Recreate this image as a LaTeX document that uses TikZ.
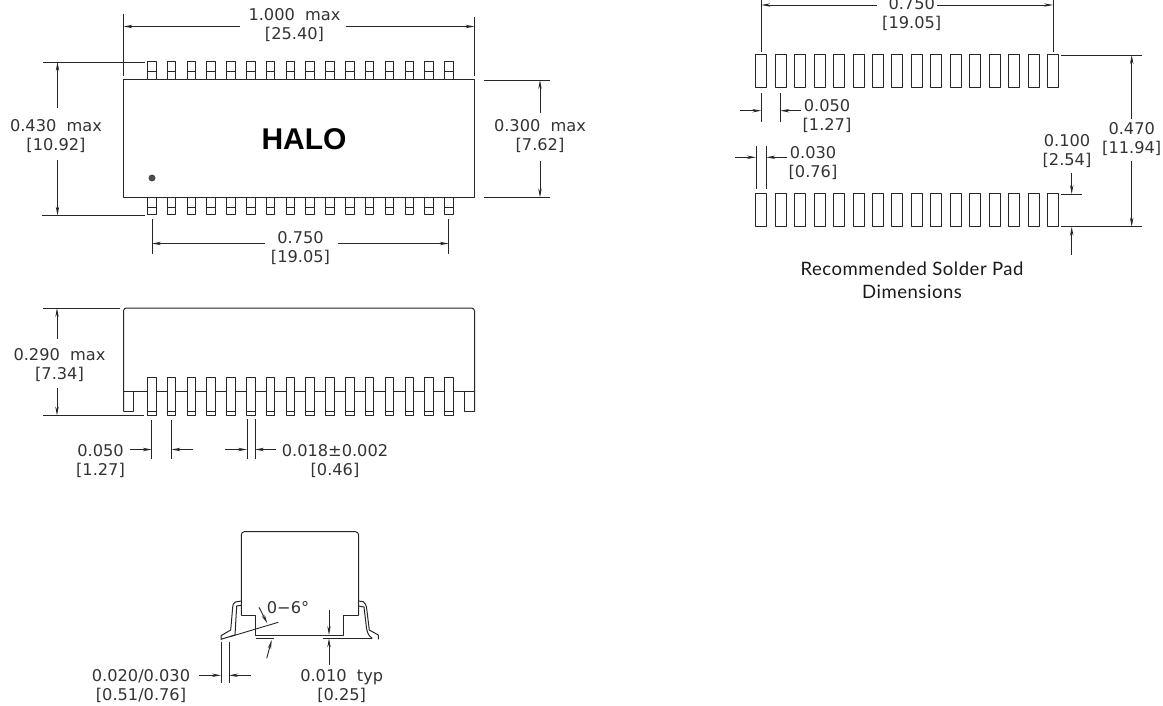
\documentclass[tikz,border=0pt]{standalone}
\usepackage{fontspec}
\newfontfamily\dimfont{DejaVu Sans}
\newfontfamily\captionfont[LetterSpace=3]{Lato}
\newfontfamily\logofont{Liberation Sans}
\usetikzlibrary{arrows.meta}

\tikzset{
  outline/.style={draw=black!85, line width=1pt, line join=round},
  thinline/.style={draw=black!85, line width=0.9pt},
  dimline/.style={draw=black!85, line width=0.9pt, -{Stealth[length=9pt,width=3.4pt]}},
  dimtext/.style={align=center, inner sep=0pt, text=black!80, font=\dimfont\fontsize{16.2}{19}\selectfont},
  captiontext/.style={align=center, inner sep=0pt, text=black!90, font=\captionfont\fontsize{18.5}{23}\selectfont},
  pinbox/.style={outline, fill=white},
}

\begin{document}
\begin{tikzpicture}[x=1pt, y=-1pt]
\useasboundingbox (0,0) rectangle (1163,706);

\node[dimtext] (tabovera) at (294.5,25) {1.000\ \ max\\{[25.40]}};
\node[dimtext] (tophigh) at (56,136) {0.430\ \ max\\{[10.92]}};
\node[dimtext] (topbody) at (540,136) {0.300\ \ max\\{[7.62]}};
\node[dimtext] (toppitch) at (300.5,248) {0.750\\{[19.05]}};
\node[font=\logofont\bfseries\fontsize{30}{30}\selectfont, inner sep=0pt] (halo) at (304,139) {HALO};
\node[circle, fill=black!70, minimum size=7pt, inner sep=0pt] (dot) at (152,178) {};

\foreach \i in {0,...,15} {
  \draw[outline] ({147.5+19.81*\i},80) -- ({147.5+19.81*\i},62) -- ({156+19.81*\i},62) -- ({156+19.81*\i},80);
  \draw[thinline] ({147.5+19.81*\i},71.5) -- ({156+19.81*\i},71.5);
  \draw[outline] ({147.5+19.81*\i},197.5) -- ({147.5+19.81*\i},215) -- ({156+19.81*\i},215) -- ({156+19.81*\i},197.5);
  \draw[thinline] ({147.5+19.81*\i},207) -- ({156+19.81*\i},207);
}
\draw[outline] (123.5,80) rectangle (474.5,197.5);

\draw[thinline] (123.5,14) -- (123.5,76);
\draw[thinline] (474.5,17) -- (474.5,76);
\draw[dimline] (240,26.5) -- (123.5,26.5);
\draw[dimline] (345.7,26.5) -- (474.5,26.5);
\draw[thinline] (43,62) -- (145,62);
\draw[thinline] (42,215.5) -- (145,215.5);
\draw[dimline] (57.5,108) -- (57.5,62);
\draw[dimline] (57.5,160) -- (57.5,215.5);
\draw[thinline] (483.5,80) -- (549.5,80);
\draw[thinline] (483.5,197.5) -- (549.5,197.5);
\draw[dimline] (540,113) -- (540,80);
\draw[dimline] (540,161) -- (540,197.5);
\draw[thinline] (152,219) -- (152,254);
\draw[thinline] (448.7,219) -- (448.7,254);
\draw[dimline] (265,243.5) -- (152,243.5);
\draw[dimline] (338,243.5) -- (448.7,243.5);

\node[dimtext] (sidehigh) at (59.5,365) {0.290\ \ max\\{[7.34]}};
\node[dimtext] (sidepitch) at (100.5,461) {0.050\\{[1.27]}};
\node[dimtext] (sidelead) at (335,461) {0.018±0.002\\{[0.46]}};

\draw[outline, rounded corners=3pt] (123.5,411.5) -- (123.5,308) -- (474.5,308) -- (474.5,411.5);
\draw[outline] (474.5,400) -- (474.5,411.5) -- (464.3,411.5) -- (464.3,391.5) -- (474.5,391.5);
\draw[outline] (123.5,391.5) -- (464.3,391.5);
\draw[outline] (123.5,411.5) -- (133.5,411.5) -- (133.5,391.5);
\foreach \i in {0,...,15} {
  \draw[pinbox] ({147.5+19.81*\i},377.3) rectangle ({156+19.81*\i},415.3);
  \draw[thinline] ({147.5+19.81*\i},411.7) -- ({156+19.81*\i},411.7);
}

\draw[thinline] (43,308) -- (120,308);
\draw[thinline] (43,415.5) -- (144,415.5);
\draw[dimline] (57,339) -- (57,308);
\draw[dimline] (57,388) -- (57,415.5);
\draw[thinline] (151.7,420) -- (151.7,459);
\draw[thinline] (171.5,420) -- (171.5,459);
\draw[dimline] (130,449.5) -- (151.7,449.5);
\draw[dimline] (193,449.5) -- (171.5,449.5);
\draw[thinline] (247,419) -- (247,459);
\draw[thinline] (255,419) -- (255,459);
\draw[dimline] (225,449.5) -- (247,449.5);
\draw[dimline] (276,449.5) -- (255,449.5);

\node[dimtext, anchor=west] (endangle) at (266.7,608) {0−6°};
\node[dimtext] (endgap) at (341.7,686) {0.010\ \ typ\\{[0.25]}};
\node[dimtext] (endfoot) at (141,686) {0.020/0.030\\{[0.51/0.76]}};

\draw[outline, rounded corners=3pt] (241.3,615) -- (241.3,531.7) -- (358.5,531.7) -- (358.5,615);
\draw[outline] (241.3,610) -- (241.3,615) -- (255.7,615) -- (255.7,635) -- (343.3,635) -- (343.3,615) -- (358.5,615) -- (358.5,610);
\draw[outline] (241.3,601) -- (235.3,602) .. controls (233,603.5) and (232.7,605) .. (232.7,607.3) -- (230.7,630) -- (221,635.7) -- (221,639.3) -- (235,635) -- (236.7,606) -- (241.3,605.3);
\draw[outline] (358.5,601) -- (363.3,601.7) .. controls (365,603) and (366,605) .. (366.5,607) -- (369.3,630) -- (378.3,635) -- (378.3,639.3);
\draw[outline] (358.5,606) -- (364,607) -- (366.5,628) .. controls (367.5,634) and (369,636) .. (372.3,638.3);

\draw[thinline] (230,636.7) -- (278.3,622.3);
\draw[thinline] (256,638.3) -- (274.3,638.3);
\draw[thinline] (322.7,638.3) -- (372.3,638.3);
\draw[dimline] (259,607.3) -- (267.3,623.3);
\draw[dimline] (266.7,658.3) -- (271.7,640);
\draw[dimline] (329,610) -- (329,635);
\draw[dimline] (329,665) -- (329,638.3);
\draw[thinline] (221,641.7) -- (221,683.3);
\draw[thinline] (229,641.7) -- (229,683.3);
\draw[dimline] (199.3,675.3) -- (221,675.3);
\draw[dimline] (251,675.3) -- (229,675.3);

\node[dimtext] (padpitch) at (911.7,14) {0.750\\{[19.05]}};
\node[dimtext] (padstep) at (827,116) {0.050\\{[1.27]}};
\node[dimtext] (padwide) at (813,163) {0.030\\{[0.76]}};
\node[dimtext] (padlong) at (1067,151) {0.100\\{[2.54]}};
\node[dimtext] (padspan) at (1131.7,139) {0.470\\{[11.94]}};
\node[captiontext] (padcaption) at (912,280) {Recommended Solder Pad\\Dimensions};

\foreach \i in {0,...,15} {
  \draw[outline] ({755.7+19.47*\i},55) rectangle ({766.7+19.47*\i},87.3);
  \draw[outline] ({755.7+19.47*\i},194) rectangle ({766.7+19.47*\i},226.7);
}

\draw[thinline] (761.3,0) -- (761.3,52);
\draw[thinline] (1053,0) -- (1053,52);
\draw[dimline] (876.7,5) -- (761.3,5);
\draw[dimline] (937,5) -- (1053,5);
\draw[thinline] (761.3,93) -- (761.3,122);
\draw[thinline] (780.3,93) -- (780.3,122);
\draw[dimline] (740,110.7) -- (761.3,110.7);
\draw[dimline] (801,110.7) -- (780.3,110.7);
\draw[thinline] (756,146) -- (756,189);
\draw[thinline] (766.3,146) -- (766.3,189);
\draw[dimline] (735,157.3) -- (756,157.3);
\draw[dimline] (787,157.3) -- (766.3,157.3);
\draw[thinline] (1061,55) -- (1142,55);
\draw[thinline] (1061,194) -- (1082,194);
\draw[thinline] (1061,226.7) -- (1142,226.7);
\draw[dimline] (1131.7,119) -- (1131.7,55);
\draw[dimline] (1131.7,161) -- (1131.7,226.7);
\draw[dimline] (1071.7,173) -- (1071.7,194);
\draw[dimline] (1071.7,255) -- (1071.7,226.7);
\end{tikzpicture}
\end{document}
